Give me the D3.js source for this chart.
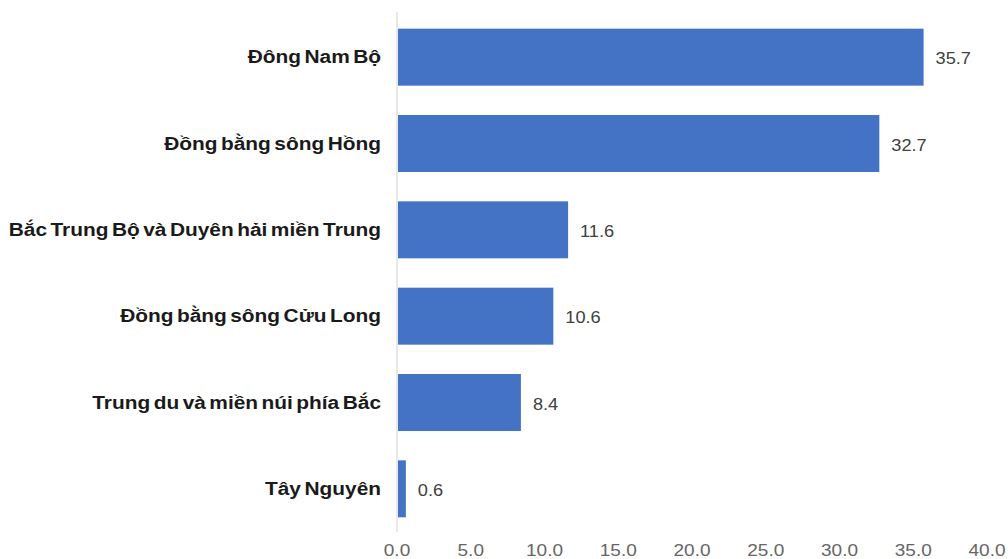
<!DOCTYPE html>
<html>
<head>
<meta charset="utf-8">
<script src="https://cdn.jsdelivr.net/npm/d3@7"></script>
<style>
  html, body { margin: 0; padding: 0; background: #fff; }
  svg { display: block; }
</style>
</head>
<body>
<svg id="chart" width="1008" height="559"></svg>
<script>
// Regions and their values (%)
const regions = [
  "Đông Nam Bộ",
  "Đồng bằng sông Hồng",
  "Bắc Trung Bộ và Duyên hải miền Trung",
  "Đồng bằng sông Cửu Long",
  "Trung du và miền núi phía Bắc",
  "Tây Nguyên"
];
const values = [35.7, 32.7, 11.6, 10.6, 8.4, 0.6];
const tickValues = [0, 5, 10, 15, 20, 25, 30, 35, 40];

const svg = d3.select("#chart");
const plotLeft = 397, plotRight = 987, plotTop = 14, plotBottom = 532;
// horizontal stretch factors for the label fonts
const catStretch = 1.16, valStretch = 1.07, tickStretch = 1.12;

const x = d3.scaleLinear().domain([0, 40]).range([plotLeft, plotRight]);
const y = d3.scaleBand().domain(regions).range([plotTop, plotBottom]).paddingInner(0.34).paddingOuter(0.17);

// vertical category axis line
svg.append("line")
  .attr("x1", plotLeft).attr("x2", plotLeft)
  .attr("y1", 12).attr("y2", 532)
  .attr("stroke", "#d9d9d9").attr("stroke-width", 1.2);

// bars
svg.selectAll("rect.bar")
  .data(regions)
  .enter().append("rect")
  .attr("class", "bar")
  .attr("x", x(0) + 1)
  .attr("y", d => y(d))
  .attr("width", (d, i) => x(values[i]) - x(0) - 1)
  .attr("height", y.bandwidth())
  .attr("fill", "#4472C4");

// value labels
svg.selectAll("text.val")
  .data(regions)
  .enter().append("text")
  .attr("class", "val")
  .attr("transform", (d, i) => `translate(${x(values[i]) + 12},${y(d) + y.bandwidth() / 2}) scale(${valStretch},1)`)
  .attr("dy", "0.42em")
  .attr("font-family", "Liberation Sans, Arial, sans-serif")
  .attr("font-size", 17)
  .attr("fill", "#404040")
  .text((d, i) => values[i].toFixed(1));

// category labels
svg.selectAll("text.cat")
  .data(regions)
  .enter().append("text")
  .attr("class", "cat")
  .attr("transform", d => `translate(381,${y(d) + y.bandwidth() / 2}) scale(${catStretch},1)`)
  .attr("dy", "0.34em")
  .attr("text-anchor", "end")
  .attr("font-family", "Liberation Sans, Arial, sans-serif")
  .attr("font-weight", "bold")
  .attr("font-size", 18)
  .attr("word-spacing", -2)
  .attr("fill", "#1a1a1a")
  .text(d => d);

// bottom value axis labels
const xAxis = d3.axisBottom(x).tickValues(tickValues).tickSize(0).tickFormat(d3.format(".1f"));
const gx = svg.append("g").attr("transform", `translate(0, 556)`).call(xAxis);
gx.select(".domain").remove();
gx.selectAll("text")
  .attr("font-family", "Liberation Sans, Arial, sans-serif")
  .attr("font-size", 17)
  .attr("fill", "#666666")
  .attr("y", 0)
  .attr("dy", 0)
  .attr("transform", `scale(${tickStretch},1)`);
gx.selectAll(".tick")
  .attr("transform", d => `translate(${x(d)},0)`);
</script>
</body>
</html>
